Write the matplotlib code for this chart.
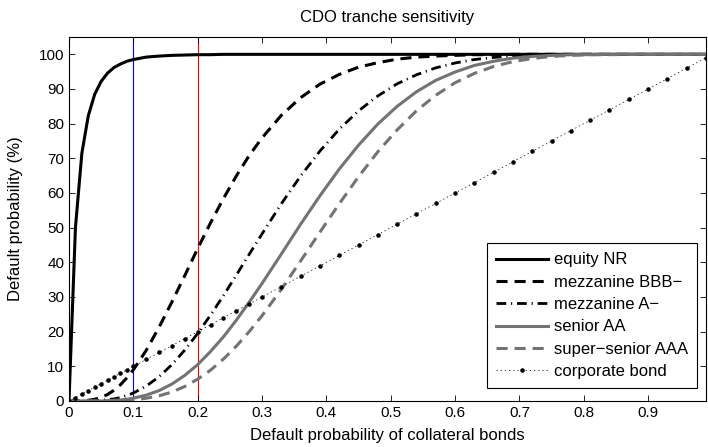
import matplotlib
matplotlib.use('Agg')
import matplotlib.pyplot as plt

plt.rcParams['font.family'] = ['Liberation Sans', 'DejaVu Sans']
plt.rcParams['font.size'] = 12
plt.rcParams['lines.scale_dashes'] = False

# default probability of the collateral bonds (x grid)
x = [0, 0.01, 0.02, 0.03, 0.04, 0.05, 0.06, 0.07, 0.08, 0.09, 0.10,
     0.12, 0.14, 0.16, 0.18, 0.20, 0.22, 0.24, 0.26, 0.28, 0.30,
     0.33, 0.36, 0.39, 0.42, 0.45, 0.48, 0.51, 0.54, 0.57, 0.60,
     0.63, 0.66, 0.69, 0.72, 0.75, 0.78, 0.81, 0.84, 0.87, 0.90,
     0.93, 0.96, 0.99]

equity = [0, 50.0, 71.5, 82.3, 88.5, 92.2, 94.6, 96.2, 97.2, 98.0, 98.5,
          99.2, 99.5, 99.7, 99.8, 99.9, 99.9, 100, 100, 100, 100,
          100, 100, 100, 100, 100, 100, 100, 100, 100, 100,
          100, 100, 100, 100, 100, 100, 100, 100, 100, 100,
          100, 100, 100]
mezz_bbb = [0, 0.0, 0.0, 0.2, 0.5, 1.0, 1.9, 3.1, 4.7, 6.7, 9.0,
            14.6, 21.3, 28.6, 36.2, 44.0, 51.4, 58.4, 64.9, 70.8, 75.9,
            82.4, 87.5, 91.4, 94.2, 96.3, 97.6, 98.6, 99.2, 99.5, 99.7,
            99.9, 99.9, 100, 100, 100, 100, 100, 100, 100, 100,
            100, 100, 100]
mezz_a = [0, 0, 0, 0, 0.1, 0.2, 0.4, 0.6, 1.0, 1.6, 2.3,
          4.3, 7.0, 10.5, 14.7, 19.5, 24.8, 30.4, 36.3, 42.3, 48.2,
          56.9, 64.9, 72.1, 78.4, 83.7, 88.0, 91.5, 94.1, 96.1, 97.5,
          98.5, 99.1, 99.5, 99.7, 99.9, 99.9, 100, 100, 100, 100,
          100, 100, 100]
senior_aa = [0, 0, 0, 0, 0, 0, 0.1, 0.2, 0.3, 0.5, 0.8,
             1.7, 3.0, 4.9, 7.4, 10.5, 14.3, 18.5, 23.3, 28.5, 33.9,
             42.4, 51.0, 59.2, 66.9, 73.8, 79.9, 85.0, 89.2, 92.5, 94.9,
             96.8, 98.0, 98.9, 99.4, 99.7, 99.9, 99.9, 100, 100, 100,
             100, 100, 100]
super_aaa = [0, 0, 0, 0, 0, 0, 0, 0.1, 0.1, 0.2, 0.3,
             0.8, 1.5, 2.6, 4.2, 6.3, 8.9, 12.1, 15.8, 20.0, 24.6,
             32.2, 40.4, 48.7, 56.9, 64.7, 71.9, 78.2, 83.7, 88.2, 91.8,
             94.5, 96.5, 97.9, 98.8, 99.4, 99.7, 99.9, 99.9, 100, 100,
             100, 100, 100]
corp_bond = [0, 1, 2, 3, 4, 5, 6, 7, 8, 9, 10,
             12, 14, 16, 18, 20, 22, 24, 26, 28, 30,
             33, 36, 39, 42, 45, 48, 51, 54, 57, 60,
             63, 66, 69, 72, 75, 78, 81, 84, 87, 90,
             93, 96, 99]

gray = (0.45, 0.45, 0.45)

fig = plt.figure(figsize=(7.08, 4.47), dpi=100)
ax = fig.add_axes([69 / 708, 46 / 447, 637 / 708, 364 / 447])

ax.axvline(0.1, color='blue', lw=0.8, zorder=1.5)
ax.axvline(0.2, color='red', lw=0.8, zorder=1.5)

ax.plot(x, equity, color='black', lw=2.2, label='equity NR')
ax.plot(x, mezz_bbb, color='black', lw=2.2, dashes=(8, 5), label='mezzanine BBB\u2212')
ax.plot(x, mezz_a, color='black', lw=2.0, dashes=(7, 3.5, 0.8, 3.5), label='mezzanine A\u2212')
ax.plot(x, senior_aa, color=gray, lw=2.2, label='senior AA')
ax.plot(x, super_aaa, color=gray, lw=2.2, dashes=(8, 5), label='super\u2212senior AAA')
ax.plot(x, corp_bond, color='black', lw=0.5, dashes=(1, 2), marker='.', markersize=4.5,
        label='corporate bond')

ax.set_xlim(0, 0.99)
ax.set_ylim(0, 105)
ax.set_xticks([0, 0.1, 0.2, 0.3, 0.4, 0.5, 0.6, 0.7, 0.8, 0.9])
ax.set_xticklabels(['0', '0.1', '0.2', '0.3', '0.4', '0.5', '0.6', '0.7', '0.8', '0.9'])
ax.set_yticks(range(0, 101, 10))
ax.tick_params(direction='in', top=True, right=True, length=4, width=0.6, labelsize=11)
for s in ax.spines.values():
    s.set_linewidth(0.8)

ax.set_title('CDO tranche sensitivity', fontsize=12, pad=11)
ax.set_xlabel('Default probability of collateral bonds', fontsize=12, labelpad=6)
ax.set_ylabel('Default probability (%)', fontsize=12, labelpad=11)

leg = ax.legend(loc='lower right', bbox_to_anchor=(0.986, 0.035), borderaxespad=0,
                fontsize=12, handlelength=3.1, handletextpad=0.36, labelspacing=0.44,
                fancybox=False, framealpha=1, edgecolor='black', borderpad=0.55)
leg.get_frame().set_linewidth(0.8)

fig.savefig('out.png', dpi=100)
